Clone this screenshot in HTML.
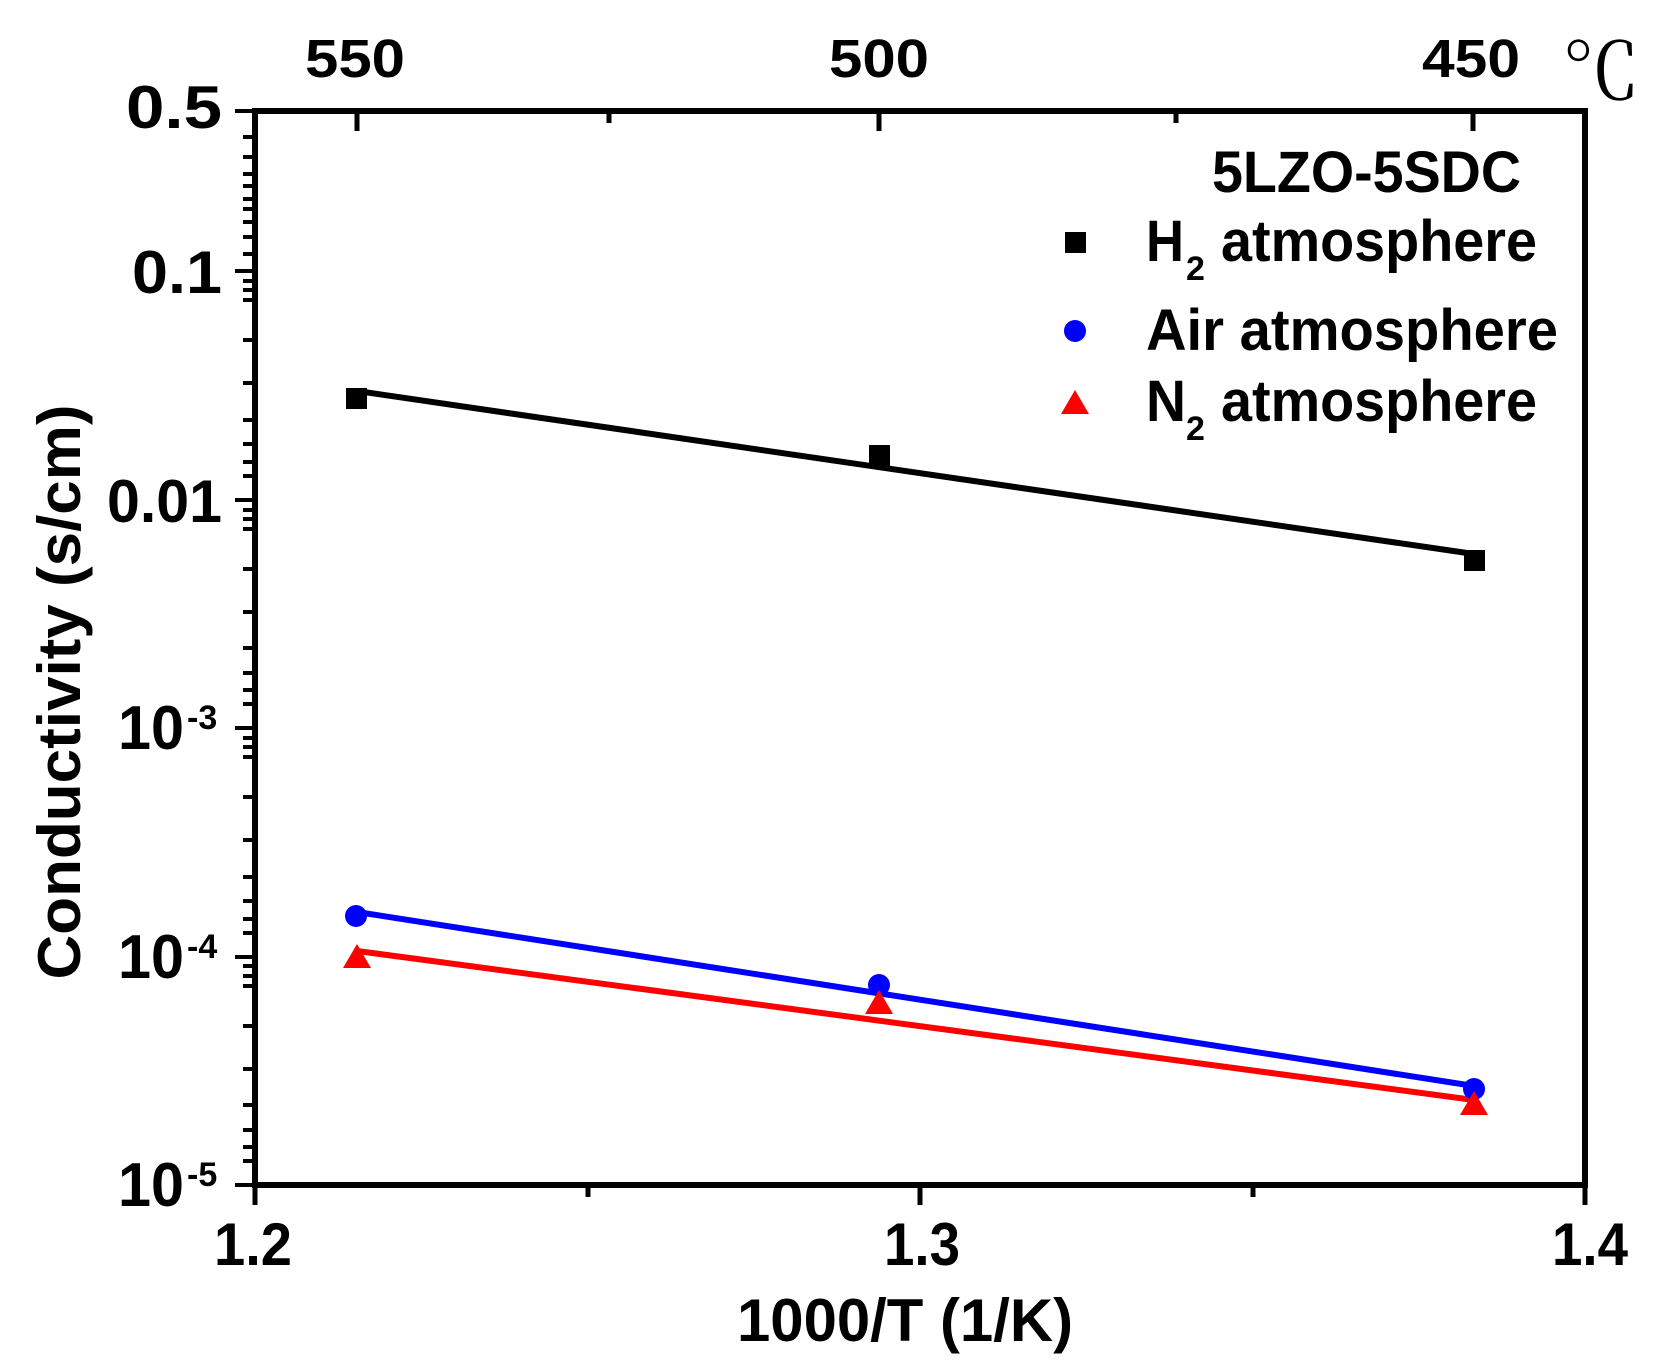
<!DOCTYPE html>
<html><head><meta charset="utf-8"><style>
html,body{margin:0;padding:0;background:#fff;}
svg{display:block;}
text{font-family:"Liberation Sans",Arial,sans-serif;font-weight:bold;fill:#000;}
</style></head><body>
<svg width="1668" height="1368" viewBox="0 0 1668 1368" xmlns="http://www.w3.org/2000/svg">
<rect width="1668" height="1368" fill="#fff"/>
<g stroke="#000" stroke-width="6" fill="none" stroke-linecap="square">
<line x1="255" y1="111" x2="1585" y2="111"/>
<line x1="1585" y1="111" x2="1585" y2="1185"/>
<line x1="255" y1="111" x2="255" y2="1185"/>
<line x1="255" y1="1185" x2="1585" y2="1185"/>
</g>
<g stroke="#000" stroke-width="5">
<line x1="255" y1="1185" x2="255" y2="1205"/>
<line x1="588" y1="1185" x2="588" y2="1197"/>
<line x1="920" y1="1185" x2="920" y2="1205"/>
<line x1="1253" y1="1185" x2="1253" y2="1197"/>
<line x1="1585" y1="1185" x2="1585" y2="1205"/>
<line x1="357" y1="111" x2="357" y2="131"/>
<line x1="609" y1="111" x2="609" y2="123"/>
<line x1="879" y1="111" x2="879" y2="131"/>
<line x1="1176" y1="111" x2="1176" y2="123"/>
<line x1="1473" y1="111" x2="1473" y2="131"/>
</g>
<g stroke="#000" stroke-width="4">
<line x1="235" y1="111" x2="255" y2="111"/>
<line x1="235" y1="271" x2="255" y2="271"/>
<line x1="235" y1="500" x2="255" y2="500"/>
<line x1="235" y1="728" x2="255" y2="728"/>
<line x1="235" y1="957" x2="255" y2="957"/>
<line x1="235" y1="1185" x2="255" y2="1185"/>
<path d="M243 254H255M243 237H255M243 222H255M243 209H255M243 199H255M243 186H255M243 174H255M243 157H255M243 137H255
M243 476H255M243 462H255M243 444H255M243 420H255M243 383H255M243 340H255M243 300H255M243 290H255M243 281H255
M243 704H255M243 690H255M243 673H255M243 648H255M243 612H255M243 569H255M243 529H255M243 519H255M243 510H255
M243 933H255M243 919H255M243 901H255M243 877H255M243 840H255M243 797H255M243 757H255M243 747H255M243 738H255
M243 1161H255M243 1147H255M243 1130H255M243 1105H255M243 1069H255M243 1026H255M243 986H255M243 976H255M243 966H255"/>
</g>
<g text-anchor="end" font-size="60">
<text x="222" y="128" textLength="96" lengthAdjust="spacingAndGlyphs">0.5</text>
<text x="222" y="293" textLength="90" lengthAdjust="spacingAndGlyphs">0.1</text>
<text x="222" y="522" textLength="115" lengthAdjust="spacingAndGlyphs">0.01</text>
</g>
<g font-size="62">
<text x="118" y="749" textLength="66" lengthAdjust="spacingAndGlyphs">10</text>
<text x="187" y="729" font-size="34">-3</text>
<text x="118" y="978" textLength="66" lengthAdjust="spacingAndGlyphs">10</text>
<text x="187" y="958" font-size="34">-4</text>
<text x="118" y="1206" textLength="66" lengthAdjust="spacingAndGlyphs">10</text>
<text x="187" y="1186" font-size="34">-5</text>
</g>
<g text-anchor="middle" font-size="60">
<text x="253" y="1265" textLength="78" lengthAdjust="spacingAndGlyphs">1.2</text>
<text x="922" y="1265" textLength="76" lengthAdjust="spacingAndGlyphs">1.3</text>
<text x="1590" y="1265" textLength="76" lengthAdjust="spacingAndGlyphs">1.4</text>
</g>
<text x="905" y="1341" text-anchor="middle" font-size="60" textLength="336" lengthAdjust="spacingAndGlyphs">1000/T (1/K)</text>
<text transform="translate(80,692) rotate(-90)" text-anchor="middle" font-size="60" textLength="575" lengthAdjust="spacingAndGlyphs">Conductivity (s/cm)</text>
<g text-anchor="middle" font-size="54">
<text x="355" y="77" textLength="100" lengthAdjust="spacingAndGlyphs">550</text>
<text x="879" y="77" textLength="100" lengthAdjust="spacingAndGlyphs">500</text>
<text x="1471" y="77" textLength="98" lengthAdjust="spacingAndGlyphs">450</text>
</g>
<text x="1562" y="99" font-size="78" style="font-family:'Liberation Serif','Noto Serif CJK SC',serif;font-weight:normal">℃</text>
<g stroke-width="6" fill="none">
<line x1="357" y1="391" x2="1474" y2="554" stroke="#000"/>
<line x1="357" y1="912" x2="1474" y2="1086" stroke="#0000ff"/>
<line x1="357" y1="951" x2="1474" y2="1100" stroke="#ff0000"/>
</g>
<g fill="#000">
<rect x="346" y="388" width="21" height="21"/>
<rect x="869" y="445" width="21" height="21"/>
<rect x="1464" y="550" width="21" height="21"/>
</g>
<g fill="#0000ff">
<circle cx="356" cy="916" r="11"/>
<circle cx="879" cy="985" r="11"/>
<circle cx="1474" cy="1089" r="11"/>
</g>
<g fill="#ff0000">
<polygon points="357,944 343,968 371,968"/>
<polygon points="879,990 865,1014 893,1014"/>
<polygon points="1474,1091 1460,1115 1488,1115"/>
</g>
<text x="1212" y="192" font-size="58" textLength="309" lengthAdjust="spacingAndGlyphs">5LZO-5SDC</text>
<rect x="1065" y="232" width="21" height="21" fill="#000"/>
<text x="1146" y="261" font-size="58" textLength="38" lengthAdjust="spacingAndGlyphs">H</text>
<text x="1186" y="280" font-size="34">2</text>
<text x="1221" y="261" font-size="58" textLength="316" lengthAdjust="spacingAndGlyphs">atmosphere</text>
<circle cx="1075" cy="331" r="11" fill="#0000ff"/>
<text x="1146" y="350" font-size="58" textLength="412" lengthAdjust="spacingAndGlyphs">Air atmosphere</text>
<polygon points="1075,390 1061,414 1089,414" fill="#ff0000"/>
<text x="1146" y="421" font-size="58" textLength="40" lengthAdjust="spacingAndGlyphs">N</text>
<text x="1186" y="440" font-size="34">2</text>
<text x="1221" y="421" font-size="58" textLength="316" lengthAdjust="spacingAndGlyphs">atmosphere</text>
</svg>
</body></html>
